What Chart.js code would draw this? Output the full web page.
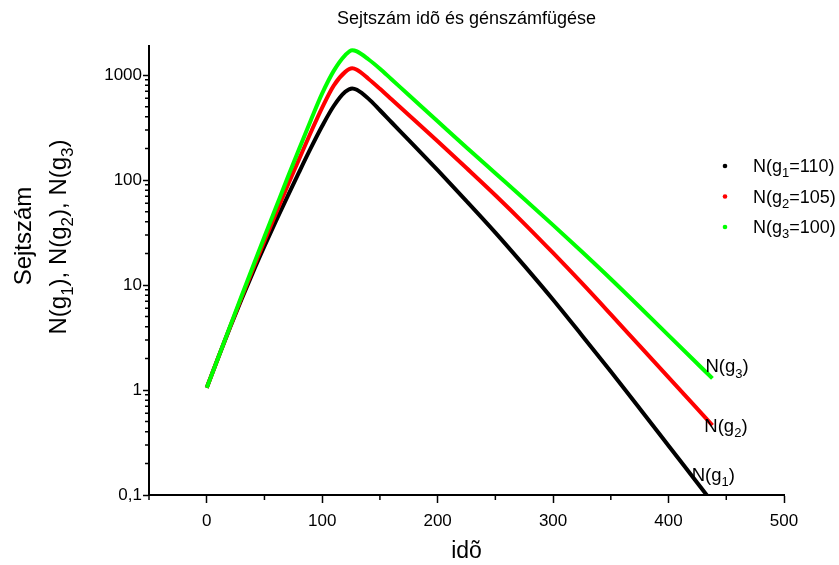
<!DOCTYPE html>
<html>
<head>
<meta charset="utf-8">
<script src="https://cdn.jsdelivr.net/npm/chart.js@4.4.1/dist/chart.umd.min.js"></script>
<style>
  html, body { margin: 0; padding: 0; background: #fff; }
</style>
</head>
<body>
<canvas id="chart" width="839" height="565"></canvas>
<script>
// time points (idõ) shared by the three curves
const times = [0, 10, 20, 30, 40, 50, 60, 70, 80, 90, 100, 110, 120, 126, 130,
  140, 150, 160, 175, 200, 225, 250, 275, 300, 325, 350, 375, 400, 425, 438];

// cell counts
const nG1 = [1.05, 2.04, 3.89, 7.24, 13.2, 23.4, 40.7, 70.0, 119, 200, 327, 507, 692, 746, 724,
  596, 462, 355, 240, 124, 63.1, 31.6, 15.3, 7.24, 3.31, 1.50, 0.668, 0.295, 0.130, 0.0851];
const nG2 = [1.05, 2.04, 3.94, 7.50, 14.1, 26.3, 48.4, 88.1, 158, 282, 490, 794, 1072, 1159, 1122,
  923, 741, 589, 417, 234, 130, 71.6, 38.5, 20.2, 10.4, 5.25, 2.63, 1.32, 0.661, 0.461];
const nG3 = [1.05, 2.04, 3.98, 7.76, 15.0, 28.8, 55.0, 105, 197, 367, 668, 1096, 1549, 1726, 1679,
  1413, 1148, 912, 646, 363, 204, 116, 66.1, 37.2, 20.7, 11.4, 6.17, 3.31, 1.78, 1.29];

const gValues = [110, 105, 100];
const seriesIdx = ['1', '2', '3'];
const colors = ['#000000', '#ff0000', '#00ff00'];

const FONT = "'Liberation Sans', Arial, sans-serif";

// where the N(g) tags sit next to the curve ends (data coords, left/baseline)
const tagAnchors = [
  { x: 420, y: 0.137 },
  { x: 431, y: 0.40 },
  { x: 432, y: 1.47 }
];

function isPow10(v) {
  const l = Math.log10(v);
  return Math.abs(l - Math.round(l)) < 1e-9;
}

function toPts(ys) {
  return ys.map((y, i) => ({ x: times[i], y: y }));
}

// text with subscript pieces: parts = [[text, isSub], ...]
function partsWidth(ctx, parts, size) {
  let w = 0;
  parts.forEach(p => {
    ctx.font = (p[1] ? Math.round(size * 0.7) : size) + 'px ' + FONT;
    w += ctx.measureText(p[0]).width;
  });
  return w;
}
function drawParts(ctx, parts, x, y, size) {
  ctx.textAlign = 'left';
  ctx.textBaseline = 'alphabetic';
  let cx = x;
  parts.forEach(p => {
    const sz = p[1] ? Math.round(size * 0.7) : size;
    ctx.font = sz + 'px ' + FONT;
    ctx.fillText(p[0], cx, p[1] ? y + size * 0.3 : y);
    cx += ctx.measureText(p[0]).width;
  });
}

const extras = {
  id: 'extras',
  afterDraw(chart) {
    const ctx = chart.ctx;
    const xs = chart.scales.x, ys = chart.scales.y;
    const area = chart.chartArea;
    ctx.save();
    ctx.fillStyle = '#000';
    ctx.strokeStyle = '#000';

    // minor ticks
    ctx.lineWidth = 1.5;
    ctx.beginPath();
    xs.ticks.forEach(t => {
      if (t.value % 100 !== 0) {
        const px = xs.getPixelForValue(t.value);
        ctx.moveTo(px, area.bottom);
        ctx.lineTo(px, area.bottom + 5);
      }
    });
    ys.ticks.forEach(t => {
      if (t.value > ys.max) return;
      const e = Math.floor(Math.log10(t.value) + 1e-9);
      const m = t.value / Math.pow(10, e);
      const r = Math.round(m);
      if (Math.abs(m - r) < 1e-6 && r >= 2 && r <= 9) {
        const py = ys.getPixelForValue(t.value);
        ctx.moveTo(area.left, py);
        ctx.lineTo(area.left - 4, py);
      }
    });
    ctx.stroke();

    // title
    ctx.font = '18px ' + FONT;
    ctx.textAlign = 'center';
    ctx.textBaseline = 'alphabetic';
    ctx.fillText('Sejtszám idõ és génszámfügése', (area.left + area.right) / 2, 24);

    // x axis title
    ctx.font = '23px ' + FONT;
    ctx.fillText('idõ', (area.left + area.right) / 2, 558);

    // y axis title (two lines, rotated)
    ctx.save();
    ctx.translate(31, 236);
    ctx.rotate(-Math.PI / 2);
    ctx.font = '24px ' + FONT;
    ctx.textAlign = 'center';
    ctx.fillText('Sejtszám', 0, 0);
    ctx.restore();

    const yParts = [];
    seriesIdx.forEach((s, i) => {
      yParts.push(['N(g', false], [s, true], [i < 2 ? '), ' : ')', false]);
    });
    ctx.save();
    ctx.translate(66, 237);
    ctx.rotate(-Math.PI / 2);
    const w2 = partsWidth(ctx, yParts, 24);
    drawParts(ctx, yParts, -w2 / 2, 0, 24);
    ctx.restore();

    // legend
    gValues.forEach((g, i) => {
      const ly = area.top + 120 + i * 30.5;
      ctx.fillStyle = colors[i];
      ctx.beginPath();
      ctx.arc(area.right - 59, ly, 2.3, 0, Math.PI * 2);
      ctx.fill();
      ctx.fillStyle = '#000';
      drawParts(ctx, [['N(g', false], [seriesIdx[i], true], ['=' + g + ')', false]],
        area.right - 31, ly + 6, 18);
    });

    // curve end tags
    tagAnchors.forEach((a, i) => {
      drawParts(ctx, [['N(g', false], [seriesIdx[i], true], [')', false]],
        xs.getPixelForValue(a.x), ys.getPixelForValue(a.y), 18.5);
    });
    ctx.restore();
  }
};

const series = [nG1, nG2, nG3];
new Chart(document.getElementById('chart'), {
  type: 'line',
  data: {
    datasets: series.map((d, i) => ({
      label: 'N(g' + seriesIdx[i] + '=' + gValues[i] + ')',
      data: toPts(d),
      borderColor: colors[i],
      backgroundColor: colors[i],
      borderWidth: 4,
      pointRadius: 0,
      fill: false,
      cubicInterpolationMode: 'monotone',
      order: 2 - i
    }))
  },
  options: {
    responsive: false,
    animation: false,
    layout: { padding: { top: 46, right: 55, left: 0, bottom: 0 } },
    plugins: {
      legend: { display: false },
      title: { display: false },
      tooltip: { enabled: false }
    },
    scales: {
      x: {
        type: 'linear',
        min: -50,
        max: 500,
        ticks: {
          stepSize: 50,
          autoSkip: false,
          maxRotation: 0,
          color: '#000',
          padding: 8,
          font: { family: FONT, size: 17 },
          callback: v => (v % 100 === 0 && v >= 0) ? String(v) : ''
        },
        grid: {
          drawOnChartArea: false,
          tickLength: 8,
          tickWidth: 1.5,
          tickColor: c => (c.tick && c.tick.value % 100 === 0) ? '#000' : 'rgba(0,0,0,0)'
        },
        border: { display: true, color: '#000', width: 2 },
        afterFit: s => { s.height = 70; }
      },
      y: {
        type: 'logarithmic',
        min: 0.1,
        max: 1890,
        ticks: {
          autoSkip: false,
          color: '#000',
          padding: 1,
          font: { family: FONT, size: 17 },
          callback: v => isPow10(v) ? String(v).replace('.', ',') : ''
        },
        grid: {
          drawOnChartArea: false,
          tickLength: 6,
          tickWidth: 1.5,
          tickColor: c => (c.tick && isPow10(c.tick.value)) ? '#000' : 'rgba(0,0,0,0)'
        },
        border: { display: true, color: '#000', width: 2 },
        afterFit: s => { s.width = 149; }
      }
    }
  },
  plugins: [extras]
});
</script>
</body>
</html>
